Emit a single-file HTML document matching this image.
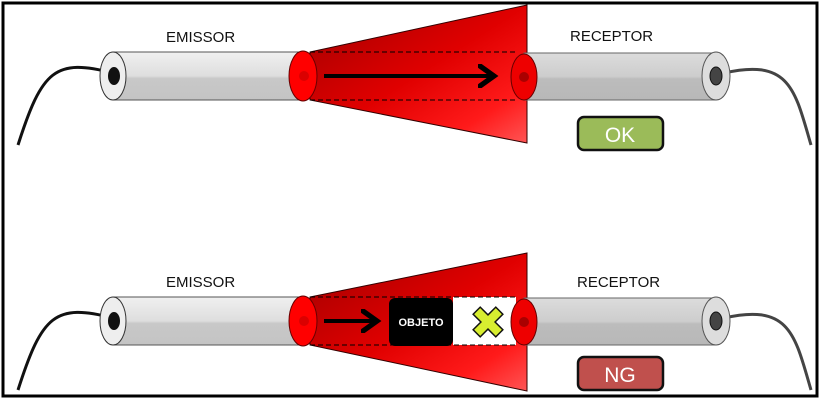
<!DOCTYPE html>
<html><head><meta charset="utf-8"><style>
html,body{margin:0;padding:0;background:#fff;}
svg{display:block;}
text{font-family:"Liberation Sans",sans-serif;}
</style></head><body>
<svg width="820" height="400" viewBox="0 0 820 400" xmlns="http://www.w3.org/2000/svg">
<defs>
<linearGradient id="tube" x1="0" y1="0" x2="0" y2="1">
<stop offset="0" stop-color="#f0f0f0"/><stop offset="0.5" stop-color="#dedede"/><stop offset="0.55" stop-color="#c8c8c8"/><stop offset="1" stop-color="#c4c4c4"/></linearGradient>
<linearGradient id="tube2" x1="0" y1="0" x2="0" y2="1">
<stop offset="0" stop-color="#dcdcdc"/><stop offset="0.5" stop-color="#cdcdcd"/><stop offset="0.55" stop-color="#bcbcbc"/><stop offset="1" stop-color="#b8b8b8"/></linearGradient>
<linearGradient id="cone" x1="0" y1="0" x2="1" y2="1">
<stop offset="0" stop-color="#a00000"/><stop offset="0.5" stop-color="#e00000"/><stop offset="0.8" stop-color="#ff1a1a"/><stop offset="1" stop-color="#ff5555"/></linearGradient>
<marker id="ah" markerWidth="6" markerHeight="6" refX="4" refY="3" orient="auto" markerUnits="strokeWidth">
<path d="M0.5,0.5 L4,3 L0.5,5.5" fill="none" stroke="#000" stroke-width="1.3" stroke-linecap="round"/></marker>
</defs>
<rect x="3" y="3" width="814" height="393" fill="#fff" stroke="#000" stroke-width="3"/>

<g id="row1">
<text x="166" y="42" font-size="15" fill="#111">EMISSOR</text>
<text x="570" y="41" font-size="15" fill="#111">RECEPTOR</text>
<path d="M113,73 C 55,58 42,70 18,145" fill="none" stroke="#111" stroke-width="3"/>
<path d="M724,73 C 790,58 795,90 811,145" fill="none" stroke="#444" stroke-width="3"/>
<rect x="113" y="52" width="190" height="48" fill="url(#tube)" stroke="#555" stroke-width="1"/>
<ellipse cx="113" cy="76" rx="13" ry="24" fill="#eee" stroke="#333" stroke-width="1"/>
<ellipse cx="114" cy="76" rx="6" ry="9" fill="#111"/>
<polygon points="310,52 527,5 527,143 310,100" fill="url(#cone)" stroke="#300" stroke-width="1"/>
<line x1="310" y1="52" x2="516" y2="52" stroke="#000" stroke-dasharray="5,3"/>
<line x1="310" y1="100" x2="516" y2="100" stroke="#000" stroke-dasharray="5,3"/>
<line x1="324" y1="76" x2="494" y2="76" stroke="#000" stroke-width="4" marker-end="url(#ah)"/>
<ellipse cx="303" cy="76" rx="14" ry="25" fill="#f00" stroke="#600" stroke-width="1"/>
<circle cx="304" cy="76" r="5" fill="#c00" opacity="0.7"/>
<rect x="524" y="53" width="192" height="47" fill="url(#tube2)" stroke="#666" stroke-width="1"/>
<ellipse cx="716" cy="76" rx="14" ry="24" fill="#ddd" stroke="#555" stroke-width="1"/>
<ellipse cx="716" cy="76" rx="6" ry="9" fill="#444" stroke="#111"/>
<ellipse cx="524" cy="77" rx="13" ry="23" fill="#e00" stroke="#600" stroke-width="1"/>
<circle cx="524" cy="77" r="5" fill="#a00"/>
<rect x="578" y="117" width="85" height="33" rx="6" fill="#9bbb59" stroke="#111" stroke-width="2.5"/>
<text x="620" y="142" font-size="21" fill="#fff" text-anchor="middle">OK</text>
</g>

<g transform="translate(0,245)">
<text x="166" y="42" font-size="15" fill="#111">EMISSOR</text>
<text x="577" y="42" font-size="15" fill="#111">RECEPTOR</text>
<path d="M113,73 C 55,58 42,70 18,145" fill="none" stroke="#111" stroke-width="3"/>
<path d="M724,73 C 790,58 795,90 811,145" fill="none" stroke="#444" stroke-width="3"/>
<rect x="113" y="52" width="190" height="48" fill="url(#tube)" stroke="#555" stroke-width="1"/>
<ellipse cx="113" cy="76" rx="13" ry="24" fill="#eee" stroke="#333" stroke-width="1"/>
<ellipse cx="114" cy="76" rx="6" ry="9" fill="#111"/>
<polygon points="310,52 527,8 527,146 310,100" fill="url(#cone)" stroke="#300" stroke-width="1"/>
<rect x="453" y="52" width="63" height="48" fill="#fff"/>
<line x1="310" y1="52" x2="516" y2="52" stroke="#000" stroke-dasharray="5,3"/>
<line x1="310" y1="100" x2="516" y2="100" stroke="#000" stroke-dasharray="5,3"/>
<line x1="324" y1="76" x2="377" y2="76" stroke="#000" stroke-width="4" marker-end="url(#ah)"/>
<rect x="389" y="53" width="64" height="48" rx="6" fill="#000"/>
<text x="421" y="81" font-size="11" font-weight="bold" fill="#fff" text-anchor="middle">OBJETO</text>
<g transform="translate(488,77) rotate(45)">
<path d="M-5,-16 H5 V-5 H16 V5 H5 V16 H-5 V5 H-16 V-5 H-5 Z" fill="#d8ee30" stroke="#111" stroke-width="1.5"/>
</g>
<ellipse cx="303" cy="76" rx="14" ry="25" fill="#f00" stroke="#600" stroke-width="1"/>
<circle cx="304" cy="76" r="5" fill="#c00" opacity="0.7"/>
<rect x="524" y="53" width="192" height="47" fill="url(#tube2)" stroke="#666" stroke-width="1"/>
<ellipse cx="716" cy="76" rx="14" ry="24" fill="#ddd" stroke="#555" stroke-width="1"/>
<ellipse cx="716" cy="76" rx="6" ry="9" fill="#444" stroke="#111"/>
<ellipse cx="524" cy="77" rx="13" ry="23" fill="#e00" stroke="#600" stroke-width="1"/>
<circle cx="524" cy="77" r="5" fill="#a00"/>
<rect x="578" y="112" width="85" height="33" rx="6" fill="#c0504d" stroke="#111" stroke-width="2.5"/>
<text x="620" y="137" font-size="21" fill="#fff" text-anchor="middle">NG</text>
</g>
</svg>
</body></html>
